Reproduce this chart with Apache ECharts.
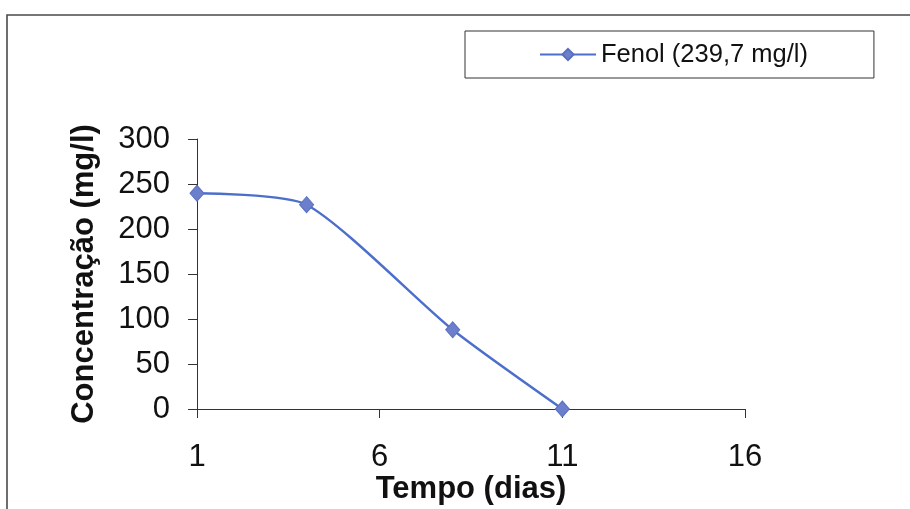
<!DOCTYPE html>
<html>
<head>
<meta charset="utf-8">
<title>Fenol</title>
<script src="https://cdn.jsdelivr.net/npm/echarts@6/dist/echarts.min.js"></script>
<style>
  html, body { margin: 0; padding: 0; background: #ffffff; }
  #chart { width: 910px; height: 509px; }
</style>
</head>
<body>
<div id="chart"></div>
<script>
// Phenol concentration over time (days)
const days = [1, 4, 8, 11];
const concentration = [239.7, 227, 88, 0];
const seriesName = 'Fenol (239,7 mg/l)';
const xTicks = [1, 6, 11, 16];
const yTicks = [0, 50, 100, 150, 200, 250, 300];

const FONT = '"Liberation Sans", Arial, Helvetica, sans-serif';
const AXIS_COLOR = '#333333';

const chart = echarts.init(document.getElementById('chart'), null, { renderer: 'canvas' });

chart.setOption({
  backgroundColor: '#ffffff',
  animation: false,
  textStyle: { fontFamily: FONT },
  graphic: [
    {
      // outer chart frame (top and left edges)
      type: 'polyline',
      shape: { points: [[7, 509], [7, 15], [910, 15]] },
      style: { stroke: '#4a4a4a', lineWidth: 1.6, fill: null },
      silent: true
    }
  ],
  legend: {
    left: 465,
    top: 31,
    orient: 'horizontal',
    itemWidth: 56,
    itemHeight: 14,
    padding: [9, 66, 9, 74],
    borderColor: '#333333',
    borderWidth: 1,
    textStyle: { fontFamily: FONT, fontSize: 25.5, color: '#111111', lineHeight: 29 },
    data: [seriesName]
  },
  grid: {
    left: 197,
    right: 165,
    top: 139,
    bottom: 100,
    containLabel: false,
    outerBoundsMode: 'none'
  },
  xAxis: {
    type: 'value',
    min: xTicks[0],
    max: xTicks[xTicks.length - 1],
    name: 'Tempo (dias)',
    nameLocation: 'middle',
    nameGap: 65,
    nameMoveOverlap: false,
    nameTextStyle: { fontFamily: FONT, fontSize: 31, fontWeight: 'bold', color: '#111111' },
    axisLine: { show: true, lineStyle: { color: AXIS_COLOR, width: 1 } },
    axisTick: { show: true, inside: false, length: 9, customValues: xTicks, lineStyle: { color: AXIS_COLOR } },
    axisLabel: { customValues: xTicks, fontSize: 31, color: '#111111', margin: 33, fontFamily: FONT },
    splitLine: { show: false }
  },
  yAxis: {
    type: 'value',
    min: yTicks[0],
    max: yTicks[yTicks.length - 1],
    interval: 50,
    name: 'Concentração (mg/l)',
    nameLocation: 'middle',
    nameRotate: 90,
    nameGap: 97,
    nameMoveOverlap: false,
    nameTextStyle: { fontFamily: FONT, fontSize: 31, fontWeight: 'bold', color: '#111111' },
    axisLine: { show: true, lineStyle: { color: AXIS_COLOR, width: 1 } },
    axisTick: { show: true, inside: false, length: 9, lineStyle: { color: AXIS_COLOR } },
    axisLabel: { fontSize: 31, color: '#111111', margin: 27, fontFamily: FONT },
    splitLine: { show: false }
  },
  series: [
    {
      name: seriesName,
      type: 'line',
      data: days.map((d, i) => [d, concentration[i]]),
      smooth: 0.22,
      symbol: 'diamond',
      symbolSize: [14, 16],
      showAllSymbol: true,
      lineStyle: { color: '#4d6fcc', width: 2.4 },
      itemStyle: { color: '#6b7fcc', borderColor: '#5a6fc0', borderWidth: 1 },
      z: 3
    }
  ]
});
</script>
</body>
</html>
